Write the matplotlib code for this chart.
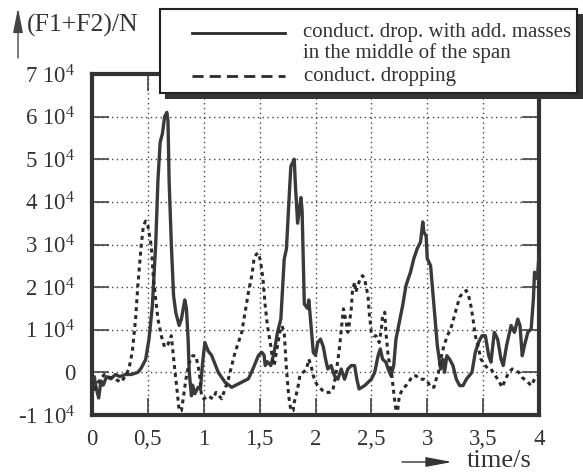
import matplotlib
matplotlib.use("Agg")
import matplotlib.pyplot as plt
from matplotlib.lines import Line2D
from matplotlib.patches import Rectangle

# ---------------- data (force in units of 1e4 N) ----------------
t_masses = [0.00, 0.02, 0.04, 0.06, 0.08, 0.10, 0.13, 0.17, 0.21, 0.25,
            0.30, 0.35, 0.41, 0.44, 0.48, 0.51, 0.54, 0.57, 0.59, 0.61,
            0.63, 0.65, 0.67, 0.68, 0.69, 0.71, 0.73, 0.75, 0.78, 0.80,
            0.83, 0.845, 0.86, 0.87, 0.89, 0.90, 0.92, 0.95, 0.97, 0.99,
            1.01, 1.04, 1.07, 1.13, 1.19, 1.25, 1.34, 1.40, 1.44, 1.49,
            1.52, 1.54, 1.55, 1.57, 1.60, 1.63, 1.66, 1.69, 1.72, 1.74,
            1.77, 1.78, 1.81, 1.82, 1.84, 1.86, 1.87, 1.88, 1.90, 1.93,
            1.94, 1.955, 1.98, 2.00, 2.02, 2.045, 2.07, 2.09, 2.11, 2.14,
            2.17, 2.20, 2.23, 2.26, 2.29, 2.32, 2.35, 2.37, 2.39, 2.44,
            2.50, 2.53, 2.56, 2.58, 2.60, 2.63, 2.65, 2.675, 2.70, 2.72,
            2.75, 2.78, 2.81, 2.83, 2.85, 2.88, 2.91, 2.94, 2.96, 2.97,
            2.99, 3.00, 3.03, 3.05, 3.07, 3.09, 3.12, 3.14, 3.155, 3.175,
            3.20, 3.23, 3.26, 3.29, 3.32, 3.35, 3.375, 3.40, 3.43, 3.46,
            3.49, 3.52, 3.55, 3.57, 3.60, 3.63, 3.66, 3.68, 3.71, 3.75,
            3.78, 3.81, 3.83, 3.85, 3.87, 3.90, 3.93, 3.95, 3.96, 3.985,
            4.00]
f_masses = [-0.3, -0.1, -0.4, -0.6, -0.2, -0.3, -0.1, -0.15, -0.05, -0.1,
            -0.05, -0.05, 0.0, 0.1, 0.3, 0.78, 1.56, 3.0, 4.5, 5.4,
            5.6, 6.0, 6.1, 5.9, 4.5, 3.0, 1.8, 1.4, 1.1, 1.25,
            1.7, 1.5, 0.78, 0.0, -0.55, -0.3, -0.5, -0.35, -0.4, 0.23,
            0.7, 0.5, 0.4, 0.0, -0.23, -0.35, -0.23, -0.15, 0.08, 0.4,
            0.47, 0.4, 0.16, 0.25, 0.16, 0.47, 0.94, 1.25, 2.66, 2.9,
            4.4, 4.84, 5.0, 4.4, 3.5, 3.9, 4.1, 3.8, 1.6, 1.5,
            1.7, 1.25, 0.47, 0.4, 0.7, 0.78, 0.6, 0.31, 0.08, 0.16,
            -0.08, -0.16, 0.08, -0.16, 0.08, 0.16, 0.16, -0.16, -0.39, -0.31,
            -0.16, 0.0, 0.39, 0.55, 0.31, 0.24, 0.08, -0.08, 0.16, 0.78,
            1.18, 1.57, 2.04, 2.2, 2.35, 2.67, 2.9, 3.06, 3.53, 3.29,
            3.2, 2.67, 2.5, 1.88, 1.25, 0.63, 0.08, 0.31, 0.0, 0.39,
            0.31, 0.16, -0.16, -0.31, -0.31, -0.16, -0.08, 0.0, 0.47, 0.71,
            0.86, 0.86, 0.39, 0.24, 0.94, 0.78, 0.31, 0.16, 0.63, 1.1,
            0.94, 1.25, 1.1, 0.39, 0.63, 0.94, 1.02, 1.73, 2.35, 2.2,
            2.75]

t_drop = [0.00, 0.02, 0.05, 0.08, 0.11, 0.14, 0.20, 0.26, 0.30, 0.33,
          0.36, 0.39, 0.41, 0.44, 0.46, 0.48, 0.50, 0.53, 0.55, 0.57,
          0.59, 0.62, 0.65, 0.68, 0.71, 0.72, 0.74, 0.76, 0.78, 0.80,
          0.82, 0.84, 0.87, 0.90, 0.93, 0.96, 0.98, 1.00, 1.04, 1.08,
          1.11, 1.16, 1.19, 1.22, 1.25, 1.28, 1.31, 1.34, 1.36, 1.38,
          1.40, 1.43, 1.45, 1.47, 1.49, 1.51, 1.53, 1.55, 1.57, 1.60,
          1.615, 1.63, 1.66, 1.68, 1.70, 1.72, 1.74, 1.76, 1.78, 1.80,
          1.81, 1.84, 1.86, 1.89, 1.92, 1.94, 1.96, 1.98, 2.00, 2.02,
          2.05, 2.08, 2.125, 2.155, 2.18, 2.21, 2.235, 2.25, 2.27, 2.29,
          2.305, 2.32, 2.33, 2.35, 2.36, 2.38, 2.40, 2.42, 2.44, 2.45,
          2.47, 2.48, 2.50, 2.52, 2.54, 2.57, 2.59, 2.60, 2.62, 2.63,
          2.65, 2.665, 2.68, 2.70, 2.72, 2.735, 2.75, 2.78, 2.81, 2.84,
          2.87, 2.90, 2.93, 2.97, 3.00, 3.03, 3.06, 3.08, 3.10, 3.12,
          3.15, 3.18, 3.21, 3.235, 3.26, 3.29, 3.32, 3.35, 3.37, 3.39,
          3.41, 3.43, 3.46, 3.48, 3.50, 3.52, 3.545, 3.57, 3.59, 3.61,
          3.64, 3.67, 3.70, 3.73, 3.76, 3.79, 3.82, 3.85, 3.90, 3.93,
          3.96, 3.99]
f_drop = [-0.2, -0.4, -0.25, -0.15, -0.05, -0.1, -0.15, -0.23, -0.08, 0.08,
          0.47, 1.25, 2.03, 2.97, 3.44, 3.55, 3.44, 2.97, 2.19, 1.72,
          1.25, 0.86, 0.59, 0.66, 0.86, 0.6, 0.08, -0.39, -0.9, -0.9,
          -0.55, -0.16, 0.23, 0.39, 0.39, 0.0, -0.55, -0.62, -0.55, -0.62,
          -0.47, -0.62, -0.39, -0.16, 0.16, 0.47, 0.70, 0.94, 1.25, 1.56,
          1.88, 2.27, 2.66, 2.77, 2.8, 2.58, 2.19, 1.56, 1.09, 0.62,
          0.3, 0.16, 0.62, 0.94, 1.09, 0.94, 0.08, -0.55, -0.9, -0.9,
          -0.7, -0.39, -0.08, 0.0, 0.08, 0.31, 0.16, -0.08, -0.23, -0.31,
          -0.39, -0.47, -0.47, -0.43, -0.08, 0.47, 1.1, 1.49, 1.25, 0.94,
          1.18, 1.49, 1.88, 2.12, 1.88, 2.04, 2.2, 2.27, 2.2, 2.04,
          1.8, 1.41, 0.94, 0.86, 0.86, 0.7, 1.02, 1.33, 1.41, 0.94,
          0.39, 0.16, 0.0, -0.47, -0.9, -0.9, -0.55, -0.39, -0.31, -0.2,
          -0.08, -0.08, -0.16, -0.16, -0.2, -0.35, -0.35, -0.16, 0.0, 0.31,
          0.63, 0.86, 1.02, 1.25, 1.49, 1.76, 1.88, 1.92, 1.8, 1.57,
          1.25, 0.86, 0.55, 0.31, 0.24, 0.16, 0.08, 0.08, 0.0, -0.08,
          -0.2, -0.35, -0.16, 0.0, 0.08, 0.04, 0.0, -0.12, -0.23, -0.31,
          -0.16, -0.08]

x_ticks = [0, 0.5, 1, 1.5, 2, 2.5, 3, 3.5, 4]
x_tick_labels = ["0", "0,5", "1", "1,5", "2", "2,5", "3", "3,5", "4"]
y_ticks = [-1, 0, 1, 2, 3, 4, 5, 6, 7]
label_masses = "conduct. drop. with add. masses\nin the middle of the span"
label_drop = "conduct. dropping"
y_title = "(F1+F2)/N"
x_title = "time/s"

# ---------------- style ----------------
plt.rcParams["font.family"] = ["Liberation Serif", "DejaVu Serif"]
plt.rcParams["mathtext.fontset"] = "custom"
plt.rcParams["mathtext.rm"] = "Liberation Serif"
plt.rcParams["mathtext.it"] = "Liberation Serif:italic"

W, H = 583, 473
fig = plt.figure(figsize=(W / 100, H / 100), dpi=100)
fig.patch.set_facecolor("white")


def fx(x):
    return x / W


def fy(y):
    return 1 - y / H


ax = fig.add_axes([fx(92), fy(415), fx(539) - fx(92), fy(74) - fy(415)])

scale = 1e4
ax.plot(t_masses, [v * scale for v in f_masses], color="#3a3a3a", lw=2.4,
        solid_joinstyle="round", zorder=3)
ax.plot(t_drop, [v * scale for v in f_drop], color="#2a2a2a", lw=2.2,
        linestyle=(0, (1.3, 1.3)), zorder=3)

ax.set_xlim(0, 4)
ax.set_ylim(-1 * scale, 7 * scale)
ax.set_xticks(x_ticks)
ax.set_xticklabels(x_tick_labels)
ax.set_yticks([v * scale for v in y_ticks])
ax.set_yticklabels(["0" if v == 0 else "%d 10$^{4}$" % v for v in y_ticks])

ax.grid(True, linestyle=(0, (1, 2.5)), color="#444444", lw=1.0)
ax.set_axisbelow(True)
for s in ax.spines.values():
    s.set_linewidth(3)
    s.set_color("#333333")
ax.tick_params(direction="in", length=12, width=1.2, top=True, right=True,
               color="#444444", labelcolor="#333333", labelsize=16.5, pad=10)
ax.tick_params(axis="y", pad=12)

# ---------------- axis titles with arrows ----------------
ax.annotate("", xy=(18, H - 8), xytext=(18, H - 58), xycoords="figure pixels",
            textcoords="figure pixels",
            arrowprops=dict(arrowstyle="-|>,head_length=1.5,head_width=0.3",
                            color="#444444", lw=1.0, shrinkA=0, shrinkB=0))
fig.text(fx(27), fy(25), y_title, ha="left", va="center", fontsize=18.5,
         color="#333333")

ax.annotate("", xy=(452, 11), xytext=(402, 11), xycoords="figure pixels",
            textcoords="figure pixels",
            arrowprops=dict(arrowstyle="-|>,head_length=1.6,head_width=0.3",
                            color="#333333", lw=1.0, shrinkA=0, shrinkB=0))
fig.text(fx(467), fy(461), x_title, ha="left", va="center", fontsize=19,
         color="#333333")

# ---------------- legend box (drawn manually) ----------------
shadow = Rectangle((fx(165), fy(99)), fx(583) - fx(165), fy(14) - fy(99),
                   transform=fig.transFigure, facecolor="#333333",
                   edgecolor="none", zorder=5)
box = Rectangle((fx(160), fy(93)), fx(577) - fx(160), fy(9) - fy(93),
                transform=fig.transFigure, facecolor="white",
                edgecolor="#222222", lw=1.5, zorder=6)
fig.add_artist(shadow)
fig.add_artist(box)
fig.add_artist(Line2D([fx(192), fx(285)], [fy(33), fy(33)],
                      transform=fig.transFigure, color="#2a2a2a", lw=2.0,
                      zorder=7))
fig.add_artist(Line2D([fx(192), fx(285)], [fy(76), fy(76)],
                      transform=fig.transFigure, color="#2a2a2a", lw=2.0,
                      linestyle=(0, (4, 2.2)), zorder=7))
fig.text(fx(303), fy(43), label_masses, ha="left", va="center",
         fontsize=15, color="#333333", linespacing=1.1, zorder=7)
fig.text(fx(304), fy(76), label_drop, ha="left", va="center",
         fontsize=15, color="#333333", zorder=7)

fig.savefig("out.png", dpi=100)
